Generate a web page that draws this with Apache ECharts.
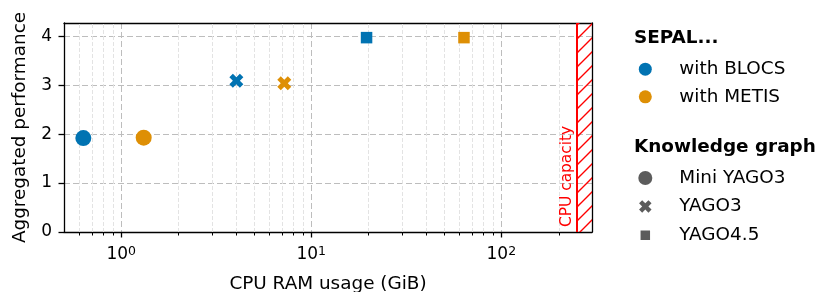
<!DOCTYPE html>
<html>
<head>
<meta charset="utf-8">
<script src="https://cdn.jsdelivr.net/npm/echarts@6/dist/echarts.min.js"></script>
<style>
html,body{margin:0;padding:0;background:#fff;}
#chart{width:823px;height:292px;}
</style>
</head>
<body>
<div id="chart"></div>
<script>
// ---- data ----
const methods = ['with BLOCS', 'with METIS'];
const graphs = ['Mini YAGO3', 'YAGO3', 'YAGO4.5'];
const blocsRam = [0.632, 4.035, 19.54];
const blocsPerf = [1.918, 3.091, 3.971];
const metisRam = [1.313, 7.21, 63.6];
const metisPerf = [1.928, 3.037, 3.971];
const cpuCapacity = 250;
const xMin = 0.5, xMax = 300;
const yMin = 0, yMax = 4.27;
const yTicks = [0, 1, 2, 3, 4];
const minorXTicks = [0.6, 0.7, 0.8, 0.9, 2, 3, 4, 5, 6, 7, 8, 9, 20, 30, 40, 50, 60, 70, 80, 90, 200];

// ---- style ----
const FONT = 'DejaVu Sans';
const colors = ['#0173b2', '#de8f05'];
const xPath = 'path://M2.86,73.57L26.43,97.14L50,73.57L73.57,97.14L97.14,73.57L73.57,50L97.14,26.43L73.57,2.86L50,26.43L26.43,2.86L2.86,26.43L26.43,50Z';
const sqPath = 'path://M0,0L10,0L10,10L0,10Z';
const shapes = ['circle', xPath, sqPath];
const sizes = [16, 14, 11.5];
const legendSizes = [14, 12.5, 9.5];
const ICON_CX = 645.3, TEXT_X = 679.3;

function hatchCanvas() {
  const c = document.createElement('canvas');
  c.width = 14; c.height = 14;
  const g = c.getContext('2d');
  g.strokeStyle = 'red';
  g.lineWidth = 1.4;
  g.beginPath();
  g.moveTo(0, 14); g.lineTo(14, 0);
  g.moveTo(-3, 3); g.lineTo(3, -3);
  g.moveTo(11, 17); g.lineTo(17, 11);
  g.stroke();
  return c;
}

function colorSeries(name, xs, ys, color) {
  return {
    type: 'scatter',
    name: name,
    z: 5,
    data: xs.map((x, i) => [x, ys[i], i]),
    symbol: (v) => shapes[v[2]],
    symbolSize: (v) => sizes[v[2]],
    itemStyle: { color: color, opacity: 1 },
    emphasis: { disabled: true }
  };
}

function legendAt(centerY, size, data) {
  return {
    orient: 'vertical',
    left: ICON_CX - size / 2,
    top: centerY - size / 2,
    padding: 0,
    itemWidth: size,
    itemHeight: size,
    itemGap: 7.6,
    selectedMode: false,
    textStyle: { fontFamily: FONT, fontSize: 18.4, color: '#000', lineHeight: 20,
      padding: [0, 0, 0, TEXT_X - (ICON_CX + size / 2 + 5)] },
    data: data
  };
}

const chart = echarts.init(document.getElementById('chart'), null, { renderer: 'canvas' });

const hiddenAxisBits = {
  axisTick: { show: false }, axisLabel: { show: false }, splitLine: { show: false },
  minorTick: { show: false }, minorSplitLine: { show: false }
};

const option = {
  animation: false,
  backgroundColor: '#fff',
  textStyle: { fontFamily: FONT },
  title: [
    { text: 'SEPAL...', left: 634, top: 28, padding: 0,
      textStyle: { fontFamily: FONT, fontSize: 18.4, fontWeight: 'bold', color: '#000', lineHeight: 20 } },
    { text: 'Knowledge graph', left: 634, top: 137, padding: 0,
      textStyle: { fontFamily: FONT, fontSize: 18.4, fontWeight: 'bold', color: '#000', lineHeight: 20 } }
  ],
  legend: [
    legendAt(65.7, 13, methods.map(m => ({ name: m, icon: 'circle' }))),
    legendAt(175, legendSizes[0], [{ name: graphs[0], icon: shapes[0] }]),
    legendAt(202.7, legendSizes[1], [{ name: graphs[1], icon: shapes[1] }]),
    legendAt(230, legendSizes[2], [{ name: graphs[2], icon: shapes[2] }])
  ],
  grid: {
    left: 64, top: 23, right: 231, bottom: 60,
    show: false,
    outerBoundsMode: 'none', containLabel: false
  },
  xAxis: [{
    type: 'log', logBase: 10, min: xMin, max: xMax,
    name: 'CPU RAM usage (GiB)', nameLocation: 'middle', nameGap: 43, nameMoveOverlap: false,
    nameTextStyle: { fontFamily: FONT, fontSize: 18.4, color: '#000' },
    axisLine: { show: true, onZero: false, lineStyle: { color: '#000', width: 1.3 } },
    axisTick: { show: true, inside: false, length: 5.5, lineStyle: { color: '#000', width: 1.3 } },
    minorTick: { show: false },
    splitLine: { show: true, lineStyle: { color: '#bdbdbd', width: 1, type: [6, 3] } },
    axisLabel: {
      margin: 13, color: '#000', fontFamily: FONT, fontSize: 17,
      showMinLabel: false, showMaxLabel: false,
      formatter: (v) => {
        const e = Math.log10(v);
        if (Math.abs(e - Math.round(e)) < 1e-6) return '{b|10}{sup|' + Math.round(e) + '}';
        return '';
      },
      rich: {
        b: { fontFamily: FONT, fontSize: 17, color: '#000', lineHeight: 20 },
        sup: { fontFamily: FONT, fontSize: 12.5, color: '#000', verticalAlign: 'top', lineHeight: 13 }
      }
    }
  }, Object.assign({
    type: 'log', logBase: 10, min: xMin, max: xMax, position: 'top',
    axisLine: { show: true, onZero: false, lineStyle: { color: '#000', width: 1.3 } }
  }, hiddenAxisBits)],
  yAxis: [{
    type: 'value', min: yMin, max: yMax, interval: 1,
    name: 'Aggregated performance', nameLocation: 'middle', nameGap: 35, nameMoveOverlap: false,
    nameTextStyle: { fontFamily: FONT, fontSize: 18.4, color: '#000' },
    axisLine: { show: true, onZero: false, lineStyle: { color: '#000', width: 1.3 } },
    axisTick: { show: true, inside: false, length: 5.5, lineStyle: { color: '#000', width: 1.3 } },
    splitLine: { show: true, lineStyle: { color: '#bdbdbd', width: 1, type: [6, 3] } },
    axisLabel: {
      margin: 12, color: '#000', fontFamily: FONT, fontSize: 17, showMaxLabel: false,
      formatter: (v) => yTicks.indexOf(v) >= 0 ? String(v) : ''
    }
  }, Object.assign({
    type: 'value', min: yMin, max: yMax, position: 'right',
    axisLine: { show: true, onZero: false, lineStyle: { color: '#000', width: 1.3 } }
  }, hiddenAxisBits)],
  series: [
    {
      type: 'custom',
      name: 'minor',
      z: 1,
      silent: true,
      clip: false,
      data: minorXTicks.map(v => [v, yMin]),
      encode: { x: 0, y: 1 },
      renderItem: (params, api) => {
        const v = api.value(0);
        const b = api.coord([v, yMin]);
        const t = api.coord([v, yMax]);
        const x = Math.round(b[0]) + 0.5;
        return {
          type: 'group',
          children: [
            { type: 'line', shape: { x1: x, y1: b[1], x2: x, y2: t[1] },
              style: { stroke: '#e3e3e3', lineWidth: 1, lineDash: [4, 2] } },
            { type: 'line', shape: { x1: x, y1: b[1], x2: x, y2: b[1] + 3.5 },
              style: { stroke: '#000', lineWidth: 1 } }
          ]
        };
      },
      markArea: {
        silent: true,
        itemStyle: { color: { image: hatchCanvas(), repeat: 'repeat' }, opacity: 1, borderWidth: 0 },
        data: [[{ xAxis: cpuCapacity }, { xAxis: xMax }]]
      },
      markLine: {
        silent: true,
        symbol: ['none', 'none'],
        lineStyle: { color: 'red', width: 2, type: 'solid' },
        label: { show: true, position: 'insideStartTop', formatter: 'CPU capacity',
          color: 'red', fontFamily: FONT, fontSize: 15.4, distance: [5, 2] },
        data: [{ xAxis: cpuCapacity }]
      }
    },
    colorSeries(methods[0], blocsRam, blocsPerf, colors[0]),
    colorSeries(methods[1], metisRam, metisPerf, colors[1]),
    { type: 'scatter', name: graphs[0], data: [], symbol: shapes[0], itemStyle: { color: '#333' } },
    { type: 'scatter', name: graphs[1], data: [], symbol: shapes[1], itemStyle: { color: '#333' } },
    { type: 'scatter', name: graphs[2], data: [], symbol: shapes[2], itemStyle: { color: '#333' } }
  ]
};
chart.setOption(option);
</script>
</body>
</html>
